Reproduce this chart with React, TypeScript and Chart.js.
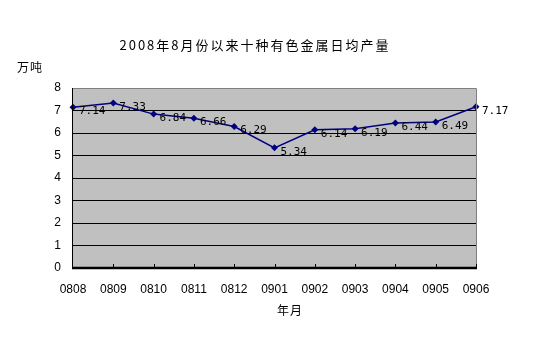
import React, { useEffect, useRef } from "react";
import { Chart, registerables } from "chart.js";

Chart.register(...registerables);

const categories = ["0808", "0809", "0810", "0811", "0812", "0901", "0902", "0903", "0904", "0905", "0906"];
const output = [7.14, 7.33, 6.84, 6.66, 6.29, 5.34, 6.14, 6.19, 6.44, 6.49, 7.17];
const yTicks = [0, 1, 2, 3, 4, 5, 6, 7, 8];
const titleText = "2008年8月份以来十种有色金属日均产量";
const yUnit = "万吨";
const xTitle = "年月";

const textPlugin = {
  id: "texts",
  beforeDraw(chart: any) {
    const { ctx, chartArea } = chart;
    ctx.save();
    ctx.fillStyle = "#c0c0c0";
    ctx.fillRect(chartArea.left, chartArea.top, chartArea.right - chartArea.left, chartArea.bottom - chartArea.top);
    ctx.restore();
  },
  afterDraw(chart: any) {
    const { ctx, chartArea } = chart;
    ctx.save();
    ctx.strokeStyle = "#808080";
    ctx.lineWidth = 1;
    ctx.beginPath();
    ctx.moveTo(chartArea.left, chartArea.top + 0.5);
    ctx.lineTo(chartArea.right + 0.5, chartArea.top + 0.5);
    ctx.lineTo(chartArea.right + 0.5, chartArea.bottom);
    ctx.stroke();
    ctx.strokeStyle = "#000";
    ctx.beginPath();
    ctx.moveTo(chartArea.left - 0.5, chartArea.top);
    ctx.lineTo(chartArea.left - 0.5, chartArea.bottom);
    ctx.stroke();
    ctx.lineWidth = 2.5;
    ctx.beginPath();
    ctx.moveTo(chartArea.left - 1, chartArea.bottom);
    ctx.lineTo(chartArea.right + 1, chartArea.bottom);
    ctx.stroke();
    const xs = chart.scales.x;
    ctx.lineWidth = 1;
    for (let i = 1; i < categories.length; i++) {
      const px = Math.round(xs.getPixelForValue(i)) + 0.5;
      ctx.beginPath();
      ctx.moveTo(px, chartArea.bottom);
      ctx.lineTo(px, chartArea.bottom - 4);
      ctx.stroke();
    }
    ctx.fillStyle = "#000";
    ctx.font = "13px 'Noto Sans CJK SC', sans-serif";
    ctx.textAlign = "center";
    ctx.textBaseline = "middle";
    (ctx as any).letterSpacing = "2px";
    ctx.fillText(titleText, 255, 45);
    (ctx as any).letterSpacing = "1px";
    ctx.font = "12px 'Noto Sans CJK SC', sans-serif";
    ctx.fillText(yUnit, 30, 67);
    ctx.fillText(xTitle, 290, 310);
    (ctx as any).letterSpacing = "0px";
    const meta = chart.getDatasetMeta(0);
    ctx.font = "11px 'DejaVu Sans Mono', monospace";
    ctx.textAlign = "left";
    meta.data.forEach((pt: any, i: number) => {
      ctx.fillText(output[i].toFixed(2), pt.x + 6, pt.y + 4);
    });
    ctx.restore();
  },
};

export default function App() {
  const ref = useRef<HTMLCanvasElement>(null);
  useEffect(() => {
    document.body.style.margin = "0";
    const chart = new Chart(ref.current!, {
      type: "line",
      data: {
        labels: categories,
        datasets: [
          {
            data: output,
            borderColor: "#000080",
            backgroundColor: "#000080",
            borderWidth: 1.5,
            pointStyle: "rectRot",
            pointRadius: 3.5,
            pointBorderWidth: 0,
            tension: 0,
          },
        ],
      },
      plugins: [textPlugin],
      options: {
        animation: false,
        responsive: false,
        layout: { padding: { left: 0, right: 77, top: 88, bottom: 0 } },
        plugins: { legend: { display: false }, tooltip: { enabled: false }, title: { display: false } },
        scales: {
          x: {
            offset: false,
            grid: { display: false, drawTicks: false },
            border: { display: false },
            ticks: { color: "#000", font: { family: "'Liberation Sans', sans-serif", size: 12 }, padding: 14, maxRotation: 0, autoSkip: false },
            afterFit: (s: any) => { s.height = 86; },
          },
          y: {
            min: 0,
            max: 8,
            afterBuildTicks: (s: any) => { s.ticks = yTicks.map((v) => ({ value: v })); },
            grid: { color: "#000", lineWidth: 1, drawTicks: false },
            border: { display: false },
            ticks: { color: "#000", font: { family: "'Liberation Sans', sans-serif", size: 12 }, padding: 12 },
            afterFit: (s: any) => { s.width = 73; },
          },
        },
      },
    });
    return () => chart.destroy();
  }, []);
  return <canvas ref={ref} width={553} height={354} style={{ display: "block", width: 553, height: 354 }} />;
}
